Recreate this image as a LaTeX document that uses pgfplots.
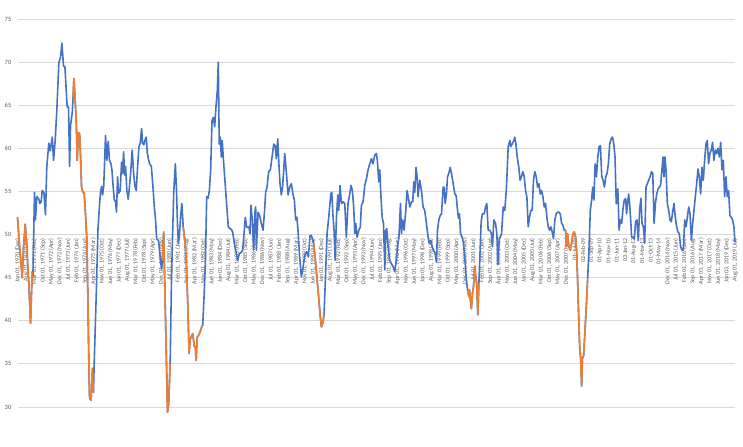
\documentclass[border=0pt]{standalone}
\usepackage{fontspec}
\setmainfont{Carlito}
\usepackage{pgfplots}
\usepackage{pgfplotstable}
\pgfplotsset{compat=1.18}
\definecolor{xlblue}{HTML}{4472C4}
\definecolor{xlorange}{HTML}{ED7D31}
\definecolor{gridgray}{HTML}{D9D9D9}
\definecolor{labgray}{HTML}{595959}
\pgfplotstableread{
m v
0 52.0
1.5 49.0
3.9 45.0
5 48.5
6.4 51.2
7.5 49.0
8.6 46.3
9.4 44.4
10.8 39.7
12.2 45.7
12.8 45.1
14.1 54.9
14.9 51.7
16.0 54.4
17.7 54.1
18.6 53.6
19.6 53.8
20.5 55.1
21.9 54.9
23.2 52.3
24.3 57.9
26.0 60.6
27.1 59.7
28.8 61.3
29.9 58.6
31.3 61.0
32.6 64.4
34.3 69.9
35.7 70.6
36.8 72.2
38.2 69.5
39.3 69.5
41.2 64.8
42.3 64.8
43.2 57.9
44.0 62.7
45.4 64.1
46.0 65.8
46.8 68.1
48.7 63.3
49.5 58.6
50.4 61.8
51.5 61.7
52.3 59.0
53.1 55.6
54.2 54.9
55.3 54.8
56.4 52.4
57.5 49.4
58.4 42.4
59.2 34.7
59.8 31.0
61.0 30.8
62.2 34.5
63.0 31.7
63.6 35.1
65.3 43.0
66.7 50.5
68.1 53.6
68.8 54.8
69.7 55.6
70.6 54.6
71.5 55.6
73.0 61.5
74.1 58.6
75.2 60.8
76.3 58.6
77.5 58.2
78.3 57.5
79.1 56.0
80.2 54.1
81.3 53.8
82.1 52.6
83.0 56.7
83.8 54.8
85.2 55.1
86.3 58.4
87.1 57.1
88.0 59.6
88.8 56.9
89.6 57.9
90.7 55.1
91.8 54.1
92.9 55.6
94.0 57.5
95.1 59.8
96.3 57.1
97.4 55.6
98.5 55.1
99.6 57.9
100.7 60.2
101.8 60.6
102.9 62.3
103.7 60.6
104.8 60.4
105.8 61.0
106.8 61.3
107.6 59.5
108.5 58.8
109.6 58.2
111.0 57.9
112.3 55.6
113.4 53.3
114.5 51.7
115.4 49.5
117.0 49.3
118.6 47.0
119.4 46.0
120.2 47.0
121.2 50.3
122.2 43.6
123.2 37.4
124.4 29.4
125.3 30.3
126.6 35.0
127.6 44.0
128.6 50.0
129.6 55.0
130.9 58.2
131.9 55.0
132.7 51.0
133.4 49.0
134.2 49.7
135.2 52.0
136.3 53.6
137.4 50.9
138.6 49.5
139.8 47.4
141.2 42.0
142.3 36.2
143.1 37.8
143.9 38.1
145.3 38.5
146.7 37.0
147.5 37.0
148.1 35.4
149.0 38.1
150.1 38.3
151.4 38.7
152.8 39.3
153.6 39.5
154.7 42.8
155.8 46.6
156.9 54.4
158.0 54.2
159.1 55.1
160.2 57.5
161.3 63.2
162.4 63.6
163.5 62.5
164.6 64.8
165.7 66.7
166.5 70.0
167.3 60.5
168.2 61.3
169.0 59.0
169.8 60.9
170.6 59.0
172.0 56.3
173.4 53.6
174.8 50.9
176.1 50.7
177.3 50.6
178.4 50.3
179.8 49.0
181.2 48.0
182.6 47.0
184.0 47.8
185.4 47.9
186.7 48.2
188.1 50.5
188.9 52.0
190.0 50.9
191.4 50.8
192.0 50.9
192.8 50.1
193.6 53.4
194.7 51.7
195.8 48.2
196.9 52.6
197.5 53.2
198.1 48.2
199.5 52.6
200.8 52.2
202.2 51.3
203.6 50.5
204.8 52.6
205.8 54.9
206.9 55.5
208.3 57.3
209.7 57.5
211.1 59.0
212.5 60.5
213.7 60.3
214.6 58.8
215.8 61.1
216.9 57.8
217.7 55.9
218.8 54.6
219.8 55.5
220.8 57.5
221.6 59.4
223.0 57.1
224.4 54.6
225.7 55.5
227.1 55.9
228.4 54.7
229.6 54.0
230.7 51.7
231.7 52.0
232.6 50.5
234.0 47.4
235.4 45.1
236.5 45.9
237.6 47.0
238.7 47.8
239.8 48.0
241.2 47.4
242.6 49.9
243.7 49.9
244.8 49.4
245.6 49.0
247.3 46.6
249.2 43.6
250.9 40.8
252.0 39.3
253.1 39.7
254.2 40.7
255.4 45.1
256.7 50.1
258.1 52.0
259.8 54.7
260.6 54.9
261.7 52.0
262.5 50.5
263.4 47.0
264.5 52.0
265.6 54.6
266.4 52.8
267.5 55.7
268.6 53.6
270.0 53.8
271.4 53.6
272.7 49.7
274.1 53.6
275.5 54.7
276.6 55.7
277.7 55.1
278.8 53.2
279.7 50.1
280.5 51.3
281.6 49.7
283.0 50.5
284.3 50.9
285.2 53.4
286.6 53.8
288.0 55.7
289.4 56.5
290.7 57.5
292.1 58.2
293.5 58.8
294.8 58.2
296.2 59.2
297.6 59.4
298.4 58.6
299.6 56.1
300.4 57.5
301.3 54.7
302.4 52.0
303.5 51.3
304.6 45.9
305.4 50.5
306.2 50.7
307.3 48.6
308.7 47.0
310.1 46.6
311.4 46.3
312.8 45.7
314.1 47.0
315.5 49.0
316.3 49.7
317.6 53.6
318.4 50.1
319.5 51.7
320.6 50.5
322.0 52.8
323.1 55.1
324.2 54.2
325.3 53.2
326.7 53.8
327.8 53.8
328.6 56.1
329.4 54.9
330.5 57.8
331.4 56.7
332.2 54.4
333.6 56.3
335.0 55.1
336.3 53.2
337.7 52.8
339.1 51.3
340.5 49.7
341.3 49.0
342.7 49.3
343.8 48.6
344.9 48.2
346.3 47.8
347.4 46.8
348.3 50.5
349.4 51.7
350.5 52.2
351.6 52.4
353.0 55.5
353.8 55.5
354.6 53.6
355.7 54.7
356.6 56.7
357.7 57.1
358.8 57.8
359.9 57.1
361.3 55.9
362.7 54.7
363.8 54.5
364.9 52.8
365.7 51.9
366.5 52.4
367.4 50.1
368.7 49.7
369.8 49.0
370.9 47.4
372.0 45.1
373.2 43.6
374.3 42.8
374.8 43.6
375.6 42.4
376.4 41.4
377.3 43.2
378.1 43.9
379.2 46.3
380.0 45.1
380.8 44.3
381.7 40.7
382.6 44.3
383.6 48.0
384.5 51.5
385.5 52.4
387.0 52.4
388.1 53.2
389.2 53.6
390.3 50.5
391.7 50.5
393.0 50.1
393.9 48.6
395.0 51.7
396.4 51.3
397.5 50.1
398.4 46.5
399.5 49.5
400.5 49.8
401.4 50.1
402.8 53.2
404.1 52.8
405.5 55.5
406.9 60.2
408.3 60.9
409.1 60.2
410.2 60.5
411.6 60.9
412.4 61.3
413.3 60.5
414.4 59.0
415.7 57.8
416.8 56.3
417.9 56.7
419.1 57.3
420.2 56.7
421.3 55.1
422.4 54.4
423.5 50.9
424.6 52.0
425.7 52.8
426.8 52.8
427.9 56.3
429.0 57.3
430.2 56.7
431.3 55.5
432.4 55.9
433.5 54.7
434.6 55.1
435.7 54.4
436.8 53.2
437.9 53.6
439.0 52.0
440.1 50.9
441.2 50.5
442.3 50.9
443.4 50.3
444.5 49.5
445.6 51.7
446.7 52.4
447.9 52.6
449.0 52.6
450.1 52.4
451.2 51.3
452.3 51.1
453.4 50.5
454.5 50.5
455.3 48.6
456.1 50.1
457.2 48.6
458.4 48.2
459.5 49.0
460.6 50.1
461.7 50.3
462.8 49.7
463.6 48.2
464.5 44.7
465.3 40.8
466.2 37.0
467.0 35.6
467.8 32.4
468.4 35.6
469.5 36.0
470.6 38.9
471.7 41.6
472.8 44.9
473.9 48.2
475.0 52.8
476.1 54.0
477.0 55.5
478.0 54.0
479.0 58.2
480.1 56.7
481.2 59.0
482.3 60.2
483.4 60.3
484.5 56.7
485.6 56.3
486.7 55.5
487.8 56.7
488.9 57.1
490.0 58.2
491.1 60.5
492.3 61.1
493.4 61.3
494.5 60.5
495.5 59.0
496.5 53.6
497.8 55.3
498.9 50.5
499.9 51.7
501.0 51.3
502.1 53.0
503.2 54.0
504.3 54.2
505.1 52.4
505.9 53.6
506.8 54.7
507.6 53.6
508.5 51.7
509.3 49.7
510.4 49.7
511.5 49.5
512.6 51.5
513.7 51.7
514.8 49.3
515.9 52.8
517.0 54.2
517.9 51.3
519.0 50.9
520.1 49.0
521.2 55.5
522.3 55.9
523.4 56.3
524.6 56.7
525.7 57.3
526.8 57.1
527.9 51.3
529.0 53.6
530.1 54.7
531.2 55.3
532.2 55.5
533.3 55.7
534.4 57.5
535.3 59.0
536.1 56.7
536.9 59.0
537.8 57.5
538.9 53.6
540.0 52.8
541.1 51.7
542.2 51.5
543.3 52.6
544.4 53.6
545.5 52.0
546.6 50.9
547.7 50.3
548.8 50.1
549.9 48.6
551.0 48.2
552.2 48.2
553.3 51.7
554.4 50.9
555.5 52.0
556.6 53.2
557.7 52.4
558.8 49.3
559.9 51.3
561.0 52.8
562.1 54.4
563.2 55.9
564.3 57.6
565.4 56.7
566.5 54.7
567.6 57.8
568.7 56.3
569.8 58.6
570.9 60.5
572.0 60.9
573.1 58.2
574.2 59.4
575.3 59.8
576.4 60.7
577.5 58.6
578.7 59.8
579.8 59.4
580.9 60.0
582.0 59.0
583.1 60.7
584.2 57.5
585.3 58.6
586.4 54.4
587.5 56.7
588.6 54.4
589.7 55.1
590.8 52.2
591.9 52.0
593.0 51.7
594.1 50.9
595.0 49.1
}\pmidata
\begin{document}
\begin{tikzpicture}
\begin{axis}[
  at={(17.5bp,40bp)}, anchor=south west,
  scale only axis, width=717.5bp, height=388bp,
  xmin=0, xmax=595, ymin=30, ymax=75,
  set layers,
  clip=false,
  axis line style={draw=none},
  tick style={draw=none},
  ytick={30,35,...,75},
  ymajorgrids,
  grid style={gridgray, line width=0.8bp},
  xtick={0,7,...,595},
  xticklabels={
{Jan 01, 1970 (Dec)},{Aug 01, 1970 (Jul)},{Mar 01, 1971 (Feb)},{Oct 01, 1971 (Sep)},{May 01, 1972 (Apr)},{Dec 01, 1972 (Nov)},
{Jul 01, 1973 (Jun)},{Feb 01, 1974 (Jan)},{Sep 01, 1974 (Aug)},{Apr 01, 1975 (Mar)},{Nov 01, 1975 (Oct)},{Jun 01, 1976 (May)},
{Jan 01, 1977 (Dec)},{Aug 01, 1977 (Jul)},{Mar 01, 1978 (Feb)},{Oct 01, 1978 (Sep)},{May 01, 1979 (Apr)},{Dec 01, 1979 (Nov)},
{Jul 01, 1980 (Jun)},{Feb 01, 1981 (Jan)},{Sep 01, 1981 (Aug)},{Apr 01, 1982 (Mar)},{Nov 01, 1982 (Oct)},{Jun 01, 1983 (May)},
{Jan 01, 1984 (Dec)},{Aug 01, 1984 (Jul)},{Mar 01, 1985 (Feb)},{Oct 01, 1985 (Sep)},{May 01, 1986 (Apr)},{Dec 01, 1986 (Nov)},
{Jul 01, 1987 (Jun)},{Feb 01, 1988 (Jan)},{Sep 01, 1988 (Aug)},{Apr 01, 1989 (Mar)},{Nov 01, 1989 (Oct)},{Jun 01, 1990 (May)},
{Jan 01, 1991 (Dec)},{Aug 01, 1991 (Jul)},{Mar 01, 1992 (Feb)},{Oct 01, 1992 (Sep)},{May 01, 1993 (Apr)},{Dec 01, 1993 (Nov)},
{Jul 01, 1994 (Jun)},{Feb 01, 1995 (Jan)},{Sep 01, 1995 (Aug)},{Apr 01, 1996 (Mar)},{Nov 01, 1996 (Oct)},{Jun 01, 1997 (May)},
{Jan 01, 1998 (Dec)},{Aug 01, 1998 (Jul)},{Mar 01, 1999 (Feb)},{Oct 01, 1999 (Sep)},{May 01, 2000 (Apr)},{Dec 01, 2000 (Nov)},
{Jul 01, 2001 (Jun)},{Feb 01, 2002 (Jan)},{Sep 01, 2002 (Aug)},{Apr 01, 2003 (Mar)},{Nov 01, 2003 (Oct)},{Jun 01, 2004 (May)},
{Jan 01, 2005 (Dec)},{Aug 01, 2005 (Jul)},{Mar 01, 2006 (Feb)},{Oct 01, 2006 (Sep)},{May 01, 2007 (Apr)},{Dec 01, 2007 (Nov)},
{01-Jul-08},{02-Feb-09},{01-Sep-09},{01-Apr-10},{01-Nov-10},{01-Jun-11},{03-Jan-12},{01-Aug-12},{01-Mar-13},{01-Oct-13},{01-May-14},
{Dec 01, 2014 (Nov)},{Jul 01, 2015 (Jun)},{Feb 01, 2016 (Jan)},{Sep 01, 2016 (Aug)},{Apr 03, 2017 (Mar)},{Nov 01, 2017 (Oct)},
{Jun 01, 2018 (May)},{Jan 03, 2019 (Dec)},{Aug 01, 2019 (Jul)}},
  /pgf/number format/assume math mode=true,
  yticklabel style={font=\fontsize{6.5}{7}\selectfont, text=labgray, inner sep=0pt, anchor=east, xshift=-6bp},
  xticklabel style={font=\fontsize{6}{6}\selectfont, text=labgray, inner sep=0pt, yshift=169bp, rotate=90, anchor=east},
]
\addplot[xlblue, line width=1.6bp, line join=round] table[x=m,y=v]{\pmidata};
\addplot[xlorange, line width=1.6bp, line join=round, restrict x to domain=-0.01:12.21] table[x=m,y=v]{\pmidata};
\addplot[xlorange, line width=1.6bp, line join=round, restrict x to domain=45.99:63.01] table[x=m,y=v]{\pmidata};
\addplot[xlorange, line width=1.6bp, line join=round, restrict x to domain=120.19:126.61] table[x=m,y=v]{\pmidata};
\addplot[xlorange, line width=1.6bp, line join=round, restrict x to domain=137.39:153.61] table[x=m,y=v]{\pmidata};
\addplot[xlorange, line width=1.6bp, line join=round, restrict x to domain=245.59:254.21] table[x=m,y=v]{\pmidata};
\addplot[xlorange, line width=1.6bp, line join=round, restrict x to domain=373.19:382.61] table[x=m,y=v]{\pmidata};
\addplot[xlorange, line width=1.6bp, line join=round, restrict x to domain=454.49:472.81] table[x=m,y=v]{\pmidata};
\end{axis}
\path (0,0) rectangle (743bp,447bp);
\end{tikzpicture}
\end{document}
